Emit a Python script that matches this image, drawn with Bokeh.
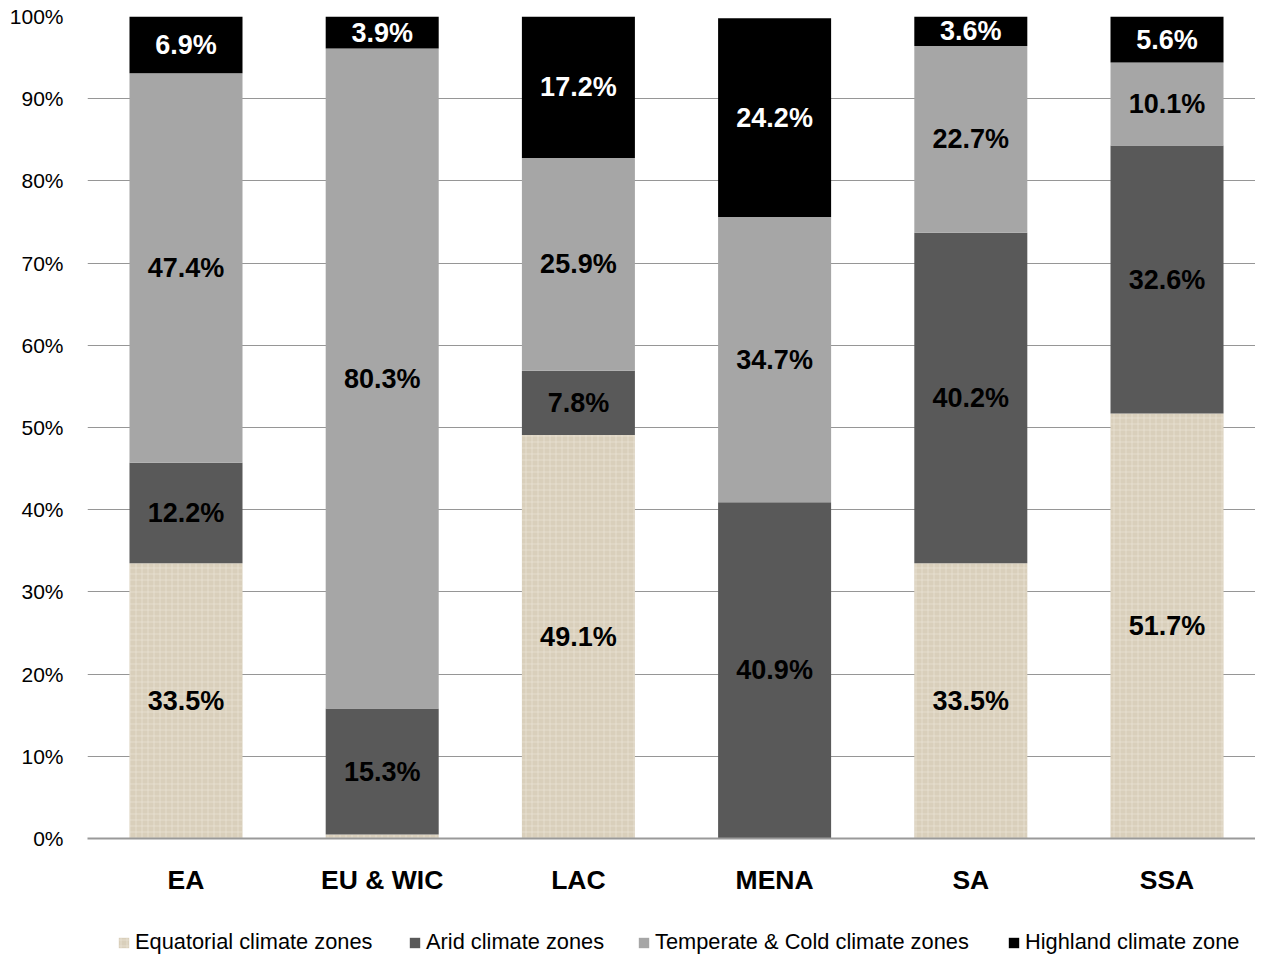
from bokeh.plotting import figure
from bokeh.layouts import column
from bokeh.models import ColumnDataSource, Range1d, FixedTicker, Legend, LegendItem
from bokeh.core.properties import value
from bokeh.embed import file_html
from bokeh.resources import INLINE

# ---- data ----
categories = ["EA", "EU & WIC", "LAC", "MENA", "SA", "SSA"]
equatorial = [33.5, 0.5, 49.1, 0.0, 33.5, 51.7]
arid = [12.2, 15.3, 7.8, 40.9, 40.2, 32.6]
temperate = [47.4, 80.3, 25.9, 34.7, 22.7, 10.1]
highland = [6.9, 3.9, 17.2, 24.2, 3.6, 5.6]
series_names = ["Equatorial climate zones", "Arid climate zones",
                "Temperate & Cold climate zones", "Highland climate zone"]
y_ticks = [0, 10, 20, 30, 40, 50, 60, 70, 80, 90, 100]

FONT = "Liberation Sans"
series = [equatorial, arid, temperate, highland]
colors = ["#d9cfbb", "#595959", "#a6a6a6", "#000000"]
label_colors = ["#000000", "#000000", "#000000", "#ffffff"]
hatch = dict(hatch_pattern="cross", hatch_color="#efe9dd", hatch_alpha=0.5,
             hatch_scale=6, hatch_weight=1)

xs = list(range(len(categories)))

p = figure(width=1255, height=918, output_backend="svg", toolbar_location=None,
           x_range=Range1d(-0.502, 5.451), y_range=Range1d(0, 100),
           min_border_left=87, min_border_right=0, min_border_top=16, min_border_bottom=80)
p.outline_line_color = None
p.background_fill_color = "white"

bottoms = [0.0] * len(categories)
label_x, label_y, label_t, label_c = [], [], [], []
for k, vals in enumerate(series):
    tops = [b + v for b, v in zip(bottoms, vals)]
    src = ColumnDataSource(dict(x=xs, bottom=bottoms, top=tops))
    kw = dict(fill_color=colors[k], line_color=None)
    if k == 0:
        kw.update(hatch)
    p.vbar(x="x", bottom="bottom", top="top", width=0.576, source=src, **kw)
    for i, v in enumerate(vals):
        if v >= 1:
            label_x.append(xs[i])
            label_y.append((bottoms[i] + tops[i]) / 2)
            label_t.append(f"{v:.1f}%")
            label_c.append(label_colors[k])
    bottoms = tops

lsrc = ColumnDataSource(dict(x=label_x, y=label_y, t=label_t, c=label_c))
p.text(x="x", y="y", text="t", text_color="c", source=lsrc,
       text_font=value(FONT), text_font_size="27px", text_font_style="bold",
       text_align="center", text_baseline="middle")

# y axis
p.yaxis.ticker = FixedTicker(ticks=y_ticks)
p.yaxis.major_label_overrides = {t: f"{t}%" for t in y_ticks}
p.yaxis.axis_line_color = None
p.yaxis.major_tick_line_color = None
p.yaxis.minor_tick_line_color = None
p.yaxis.major_tick_out = 0
p.yaxis.major_label_standoff = 24
p.yaxis.major_label_text_font = FONT
p.yaxis.major_label_text_font_size = "21px"
p.yaxis.major_label_text_color = "#000000"

# x axis
p.xaxis.ticker = FixedTicker(ticks=xs)
p.xaxis.major_label_overrides = {i: c for i, c in zip(xs, categories)}
p.xaxis.axis_line_color = "#999999"
p.xaxis.axis_line_width = 2
p.xaxis.major_tick_line_color = None
p.xaxis.minor_tick_line_color = None
p.xaxis.major_tick_out = 0
p.xaxis.major_label_standoff = 26
p.xaxis.major_label_text_font = FONT
p.xaxis.major_label_text_font_size = "26.5px"
p.xaxis.major_label_text_font_style = "bold"
p.xaxis.major_label_text_color = "#000000"

p.xgrid.grid_line_color = None
p.ygrid.ticker = FixedTicker(ticks=y_ticks)
p.ygrid.grid_line_color = "#969696"
p.ygrid.grid_line_width = 1

# ---- legend strip ----
p2 = figure(width=1255, height=38, output_backend="svg", toolbar_location=None,
            x_range=Range1d(0, 1), y_range=Range1d(0, 1),
            x_axis_location=None, y_axis_location=None,
            min_border_left=0, min_border_right=0, min_border_top=0, min_border_bottom=0)
p2.outline_line_color = None
p2.xgrid.grid_line_color = None
p2.ygrid.grid_line_color = None
p2.grid.visible = False
legend_x = [30, 321, 550, 920]
for k in range(len(series)):
    kw = dict(fill_color=colors[k], line_color=None)
    if k == 0:
        kw.update(hatch)
    r = p2.vbar(x=[0.5], bottom=[0.0], top=[0.0], width=0.0, **kw)
    lg = Legend(items=[LegendItem(label=series_names[k], renderers=[r])],
                orientation="horizontal", location=(legend_x[k], 1),
                label_text_font=FONT, label_text_font_size="21.8px", label_text_color="#000000",
                glyph_width=13, glyph_height=13, label_standoff=5, spacing=0,
                padding=0, margin=0, border_line_color=None, background_fill_alpha=0,
                label_height=20)
    p2.add_layout(lg, "center")

layout = column(p, p2, spacing=0)
open("out.html", "w").write(file_html(layout, INLINE))
